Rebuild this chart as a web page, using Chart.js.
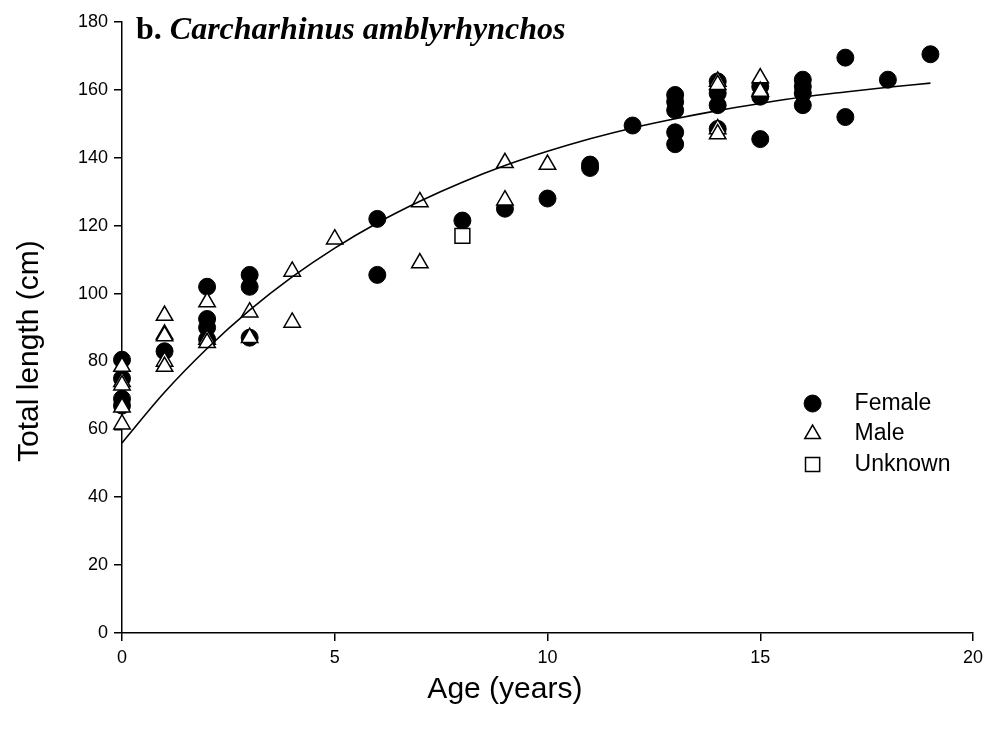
<!DOCTYPE html>
<html>
<head>
<meta charset="utf-8">
<script src="https://cdn.jsdelivr.net/npm/chart.js@4/dist/chart.umd.min.js"></script>
<style>
  html, body { margin: 0; padding: 0; background: #fff; }
  #wrap { width: 990px; height: 736px; }
</style>
</head>
<body>
<div id="wrap"><canvas id="c" width="990" height="736"></canvas></div>
<script>
// Age (years) and total length (cm) by sex
const femaleAge = [0, 0, 0, 0, 1, 2, 2, 2, 2, 3, 3, 3, 6, 6, 8, 9, 10, 11, 11, 12,
                   13, 13, 13, 13, 13, 14, 14, 14, 14, 15, 15, 15, 16, 16, 16, 16, 17, 17, 18, 19];
const femaleLen = [80.5, 75, 69, 67, 83, 102, 92.5, 90, 86.5, 105.5, 102, 87, 122, 105.5, 121.5, 125, 128, 138, 137, 149.5,
                   158.5, 156.5, 154, 147.5, 144, 162.5, 159, 155.5, 148.5, 161, 158, 145.5, 163, 161, 159, 155.5, 169.5, 152, 163, 170.5];

const maleAge = [0, 0, 0, 0, 0, 1, 1, 1, 1, 1, 2, 2, 2, 3, 3, 4, 4, 5, 7, 7, 9, 9, 10, 14, 14, 14, 14, 15, 15];
const maleLen = [78.5, 74, 73, 66.5, 61.5, 93.5, 88, 87.5, 80, 78.5, 97.5, 86.5, 85.5, 94.5, 87, 106.5, 91.5, 116, 127, 109, 138.5, 127.5, 138, 162.5, 161.5, 148.5, 147, 163.5, 159.5];

const unknownAge = [8];
const unknownLen = [117];

// Growth curve, length read at each whole year of age
const curveAge = [0, 1, 2, 3, 4, 5, 6, 7, 8, 9, 10, 11, 12, 13, 14, 15, 16, 17, 18, 19];
const curveLen = [56, 70.9, 83.8, 95.1, 104.9, 113.4, 120.8, 127.2, 132.8, 137.7, 141.9, 145.6, 148.8, 151.5, 153.9, 156.0, 157.9, 159.4, 160.8, 162.0];

const xTicks = [0, 5, 10, 15, 20];
const yTicks = [0, 20, 40, 60, 80, 100, 120, 140, 160, 180];

const legendLabels = ['Female', 'Male', 'Unknown'];
const xTitle = 'Age (years)';
const yTitle = 'Total length (cm)';

const pts = (xs, ys) => xs.map((x, i) => ({ x: x, y: ys[i] }));

const sansFont = "'Liberation Sans', Arial, sans-serif";
const serifFont = "'Liberation Serif', 'Times New Roman', serif";

// Panel title, axis titles and legend
const overlay = {
  id: 'overlay',
  afterDraw(chart) {
    const ctx = chart.ctx;
    const area = chart.chartArea;
    ctx.save();
    ctx.fillStyle = '#000';
    ctx.textBaseline = 'alphabetic';
    ctx.textAlign = 'left';
    let x = area.left + 14;
    const y = area.top + 17;
    ctx.font = "bold 32px " + serifFont;
    ctx.fillText('b. ', x, y);
    x += ctx.measureText('b. ').width;
    ctx.font = "italic bold 32px " + serifFont;
    ctx.fillText('Carcharhinus amblyrhynchos', x, y);

    // axis titles
    ctx.font = "30px " + sansFont;
    ctx.textAlign = 'center';
    ctx.textBaseline = 'middle';
    ctx.fillText(xTitle, chart.width * 0.51, 690);
    ctx.save();
    ctx.translate(30, chart.height * 0.477);
    ctx.rotate(-Math.PI / 2);
    ctx.fillText(yTitle, 0, 0);
    ctx.restore();

    // legend
    ctx.textAlign = 'left';
    const lx = chart.scales.x.getPixelForValue(16.23);
    let ly = chart.scales.y.getPixelForValue(67.6);
    ctx.font = "23px " + sansFont;
    legendLabels.forEach(name => {
      const d = chart.data.datasets.find(ds => ds.label === name);
      ctx.fillStyle = d.pointBackgroundColor;
      ctx.strokeStyle = '#000';
      ctx.lineWidth = d.pointBorderWidth;
      ctx.beginPath();
      if (d.pointStyle === 'circle') {
        ctx.arc(lx, ly, d.legendRadius, 0, Math.PI * 2);
      } else if (d.pointStyle === 'triangle') {
        const r = d.legendRadius;
        ctx.moveTo(lx, ly - r);
        ctx.lineTo(lx + r * 0.866, ly + r * 0.5);
        ctx.lineTo(lx - r * 0.866, ly + r * 0.5);
        ctx.closePath();
      } else {
        const s = d.legendRadius * Math.SQRT1_2;
        ctx.rect(lx - s, ly - s, 2 * s, 2 * s);
      }
      ctx.fill();
      ctx.stroke();
      ctx.fillStyle = '#000';
      ctx.fillText(d.label, lx + 42, ly);
      ly += 30.5;
    });
    ctx.restore();
  }
};

new Chart(document.getElementById('c'), {
  type: 'scatter',
  data: {
    datasets: [
      {
        label: 'fit',
        data: pts(curveAge, curveLen),
        showLine: true,
        borderColor: '#000',
        borderWidth: 1.6,
        pointRadius: 0,
        cubicInterpolationMode: 'monotone',
        fill: false,
        clip: false,
        order: 0
      },
      {
        label: 'Male',
        data: pts(maleAge, maleLen),
        pointStyle: 'triangle',
        pointRadius: 9.5,
        legendRadius: 9,
        pointBackgroundColor: '#fff',
        pointBorderColor: '#000',
        pointBorderWidth: 1.5,
        clip: false,
        order: 1
      },
      {
        label: 'Unknown',
        data: pts(unknownAge, unknownLen),
        pointStyle: 'rect',
        pointRadius: 10.5,
        legendRadius: 10,
        pointBackgroundColor: '#fff',
        pointBorderColor: '#000',
        pointBorderWidth: 1.5,
        clip: false,
        order: 2
      },
      {
        label: 'Female',
        data: pts(femaleAge, femaleLen),
        pointStyle: 'circle',
        pointRadius: 8.5,
        legendRadius: 8.5,
        pointBackgroundColor: '#000',
        pointBorderColor: '#000',
        pointBorderWidth: 1,
        clip: false,
        order: 3
      }
    ]
  },
  options: {
    responsive: false,
    animation: false,
    layout: { padding: { left: 0, right: 17, top: 22, bottom: 0 } },
    plugins: { legend: { display: false }, tooltip: { enabled: false } },
    scales: {
      x: {
        type: 'linear',
        min: 0, max: 20,
        afterBuildTicks(s) { s.ticks = xTicks.map(v => ({ value: v })); },
        afterFit(s) { s.height = 103; },
        border: { display: true, color: '#000', width: 1.5 },
        grid: { display: true, drawOnChartArea: false, drawTicks: true, tickLength: 8, color: '#000', lineWidth: 1.5 },
        ticks: { color: '#000', font: { family: sansFont, size: 18 }, padding: 6, maxRotation: 0 },
        title: { display: false }
      },
      y: {
        type: 'linear',
        min: 0, max: 180,
        afterBuildTicks(s) { s.ticks = yTicks.map(v => ({ value: v })); },
        afterFit(s) { s.width = 122; },
        border: { display: true, color: '#000', width: 1.5 },
        grid: { display: true, drawOnChartArea: false, drawTicks: true, tickLength: 8, color: '#000', lineWidth: 1.5 },
        ticks: { color: '#000', font: { family: sansFont, size: 18 }, padding: 6 },
        title: { display: false }
      }
    }
  },
  plugins: [overlay]
});
</script>
</body>
</html>
